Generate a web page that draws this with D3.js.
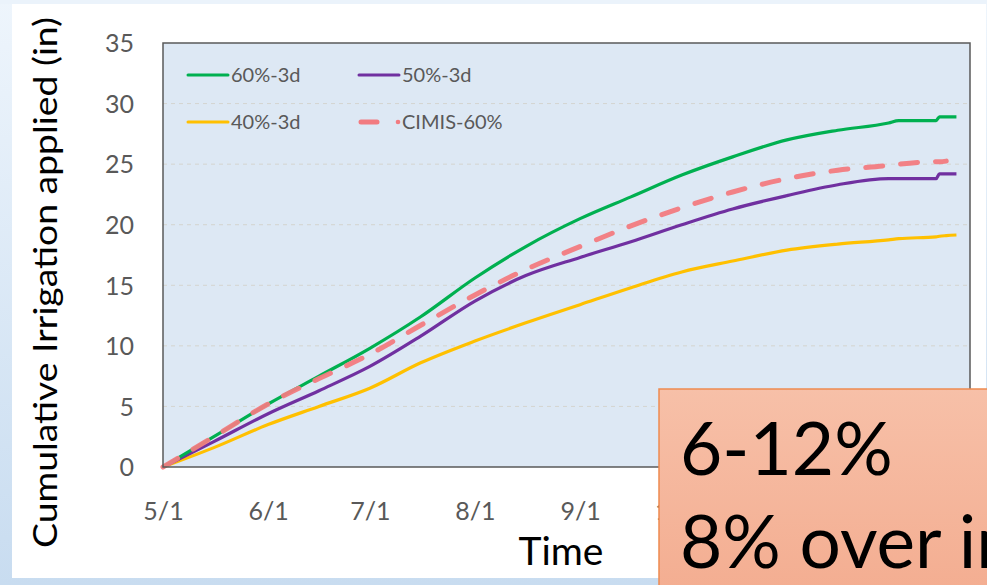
<!DOCTYPE html>
<html>
<head>
<meta charset="utf-8">
<script src="https://cdn.jsdelivr.net/npm/d3@7"></script>
<style>
  html, body { margin: 0; padding: 0; background: #ffffff; }
  svg { display: block; }
</style>
</head>
<body>
<svg id="chart" width="987" height="585"></svg>
<script>
// ---------- data ----------
const sampleDates = ["2019-05-01","2019-05-16","2019-06-01","2019-06-16","2019-07-01","2019-07-16",
  "2019-08-01","2019-08-16","2019-09-01","2019-09-16","2019-10-01","2019-10-16","2019-11-01",
  "2019-11-16","2019-12-01","2019-12-04","2019-12-15","2019-12-16","2019-12-18","2019-12-21"];
const green60 = [0, 2.5, 5.2, 7.5, 9.8, 12.4, 15.6, 18.2, 20.5, 22.3, 24.1, 25.6, 27.0, 27.8, 28.4, 28.6, 28.6, 28.9, 28.9, 28.9];
const purple50 = [0, 2.1, 4.4, 6.3, 8.3, 10.8, 13.7, 15.8, 17.3, 18.6, 20.0, 21.3, 22.4, 23.3, 23.8, 23.8, 23.8, 24.2, 24.2, 24.2];
const yellow40 = [0, 1.6, 3.5, 5.0, 6.5, 8.6, 10.4, 11.9, 13.4, 14.8, 16.1, 17.0, 17.9, 18.4, 18.75, 18.85, 19.0, 19.05, 19.1, 19.15];
const cimis60 = [0, 2.5, 5.2, 7.3, 9.3, 11.7, 14.2, 16.3, 18.2, 19.9, 21.4, 22.7, 23.8, 24.5, 24.9, 25.0, 25.2, 25.2, 25.25, null];
const seriesNames = ["60%-3d", "50%-3d", "40%-3d", "CIMIS-60%"];
const yTickValues = [0, 5, 10, 15, 20, 25, 30, 35];
const xDomain = ["2019-05-01", "2019-12-25"];
const yTitle = "Cumulative Irrigation applied (in)";
const xTitle = "Time";
const boxLines = ["6-12%", "8% over irrigation"];

// ---------- setup ----------
const W = 987, H = 585;
const parse = d3.timeParse("%Y-%m-%d");
const svg = d3.select("#chart");
const FONT = "Lato, 'Open Sans', 'DejaVu Sans', sans-serif";

const defs = svg.append("defs");
const bgGrad = defs.append("linearGradient").attr("id", "bgGrad")
  .attr("x1", 0).attr("y1", 0).attr("x2", 0).attr("y2", 1);
bgGrad.append("stop").attr("offset", "0%").attr("stop-color", "#eef5fc");
bgGrad.append("stop").attr("offset", "100%").attr("stop-color", "#c8dcf0");
const boxGrad = defs.append("linearGradient").attr("id", "boxGrad")
  .attr("x1", 0).attr("y1", 0).attr("x2", 0).attr("y2", 1);
boxGrad.append("stop").attr("offset", "0%").attr("stop-color", "#f7c0a8");
boxGrad.append("stop").attr("offset", "100%").attr("stop-color", "#f3ab8e");
defs.append("clipPath").attr("id", "pageClip")
  .append("rect").attr("x", 0).attr("y", 0).attr("width", W).attr("height", H);

// page background + white panel
svg.append("rect").attr("x", 0).attr("y", 0).attr("width", W).attr("height", H).attr("fill", "url(#bgGrad)");
svg.append("rect").attr("x", 0).attr("y", 0).attr("width", W).attr("height", 4).attr("fill", "#ebf3fb");
svg.append("rect").attr("x", 12).attr("y", 4).attr("width", 974).attr("height", 574).attr("fill", "#ffffff");

const plot = { left: 163, right: 970, top: 43, bottom: 467 };

const x = d3.scaleTime().domain(xDomain.map(parse)).range([plot.left, plot.right]);
const y = d3.scaleLinear().domain([0, 35]).range([plot.bottom, plot.top]);

// plot background
svg.append("rect")
  .attr("x", plot.left).attr("y", plot.top)
  .attr("width", plot.right - plot.left).attr("height", plot.bottom - plot.top)
  .attr("fill", "#dde8f4");

// gridlines
svg.append("g").selectAll("line").data(yTickValues.filter(v => v > 0 && v < 35)).join("line")
  .attr("x1", plot.left).attr("x2", plot.right)
  .attr("y1", d => y(d)).attr("y2", d => y(d))
  .attr("stroke", "#d4d4cf").attr("stroke-width", 1).attr("stroke-dasharray", "4,4");

// y axis labels
const yAxis = d3.axisLeft(y).tickValues(yTickValues).tickSize(0).tickPadding(0);
const gy = svg.append("g").attr("transform", `translate(${plot.left - 29},0)`).call(yAxis);
gy.select(".domain").remove();
gy.selectAll("text").attr("font-family", FONT).attr("font-size", 25).attr("fill", "#595959").attr("dy", "0.35em");

// x axis labels
const monthTicks = d3.timeMonth.range(parse("2019-05-01"), parse("2019-12-02"));
const xAxis = d3.axisBottom(x).tickValues(monthTicks).tickFormat(d3.timeFormat("%-m/%-d")).tickSize(0).tickPadding(0);
const gx = svg.append("g").attr("transform", `translate(0,${plot.bottom + 44})`).call(xAxis);
gx.select(".domain").remove();
gx.selectAll("text").attr("font-family", FONT).attr("font-size", 25).attr("fill", "#595959").attr("dy", "0.35em");

// lines
const rows = sampleDates.map((d, i) => ({ date: parse(d), g: green60[i], p: purple50[i], yl: yellow40[i], c: cimis60[i] }));
const mk = key => d3.line().defined(d => d[key] != null).curve(d3.curveMonotoneX)
  .x(d => x(d.date)).y(d => y(d[key]));
const lineSpecs = [
  { key: "yl", color: "#ffc000", width: 3.2, dash: null },
  { key: "p", color: "#7030a0", width: 3.2, dash: null },
  { key: "g", color: "#00b050", width: 3.2, dash: null },
  { key: "c", color: "#f27b80", width: 5, dash: "17,18" }
];
lineSpecs.forEach(s => {
  svg.append("path").datum(rows).attr("d", mk(s.key))
    .attr("fill", "none").attr("stroke", s.color).attr("stroke-width", s.width)
    .attr("stroke-linejoin", "round").attr("stroke-linecap", s.dash ? "round" : "butt")
    .attr("stroke-dasharray", s.dash).attr("opacity", s.key === "c" ? 0.95 : 1);
});

// plot frame
svg.append("rect")
  .attr("x", plot.left).attr("y", plot.top)
  .attr("width", plot.right - plot.left).attr("height", plot.bottom - plot.top)
  .attr("fill", "none").attr("stroke", "#595959").attr("stroke-width", 1.5);

// legend
const legendItems = [
  { name: seriesNames[0], color: "#00b050", lx: 188, ly: 75, dash: false },
  { name: seriesNames[1], color: "#7030a0", lx: 359, ly: 75, dash: false },
  { name: seriesNames[2], color: "#ffc000", lx: 188, ly: 122, dash: false },
  { name: seriesNames[3], color: "#f27b80", lx: 359, ly: 122, dash: true }
];
const lg = svg.append("g");
legendItems.forEach(it => {
  if (it.dash) {
    lg.append("line").attr("x1", it.lx + 2).attr("x2", it.lx + 18).attr("y1", it.ly).attr("y2", it.ly)
      .attr("stroke", it.color).attr("stroke-width", 5).attr("stroke-linecap", "round");
    lg.append("circle").attr("cx", it.lx + 39).attr("cy", it.ly).attr("r", 2.3).attr("fill", it.color);
  } else {
    lg.append("line").attr("x1", it.lx).attr("x2", it.lx + 40).attr("y1", it.ly).attr("y2", it.ly)
      .attr("stroke", it.color).attr("stroke-width", 3).attr("stroke-linecap", "round");
  }
  lg.append("text").attr("x", it.lx + 43).attr("y", it.ly).attr("dy", "0.35em")
    .attr("font-family", FONT).attr("font-size", 20).attr("fill", "#595959").text(it.name);
});

// axis titles
svg.append("text")
  .attr("transform", `translate(57,${(17 + 548) / 2}) rotate(-90)`)
  .attr("text-anchor", "middle")
  .attr("font-family", FONT).attr("font-size", 32).attr("fill", "#000")
  .attr("textLength", 531).attr("lengthAdjust", "spacingAndGlyphs")
  .text(yTitle);
svg.append("text")
  .attr("x", 561).attr("y", 565).attr("text-anchor", "middle")
  .attr("font-family", FONT).attr("font-size", 39).attr("fill", "#000")
  .text(xTitle);

// overlay callout box
const box = svg.append("g").attr("clip-path", "url(#pageClip)");
box.append("rect").attr("x", 659).attr("y", 389).attr("width", 360).attr("height", 230)
  .attr("fill", "url(#boxGrad)").attr("stroke", "#ee8a50").attr("stroke-width", 1.5);
box.append("text").attr("x", 680).attr("y", 475)
  .attr("font-family", FONT).attr("font-size", 73).attr("fill", "#000").text(boxLines[0]);
box.append("text").attr("x", 680).attr("y", 568)
  .attr("font-family", FONT).attr("font-size", 73).attr("fill", "#000").text(boxLines[1]);
</script>
</body>
</html>
